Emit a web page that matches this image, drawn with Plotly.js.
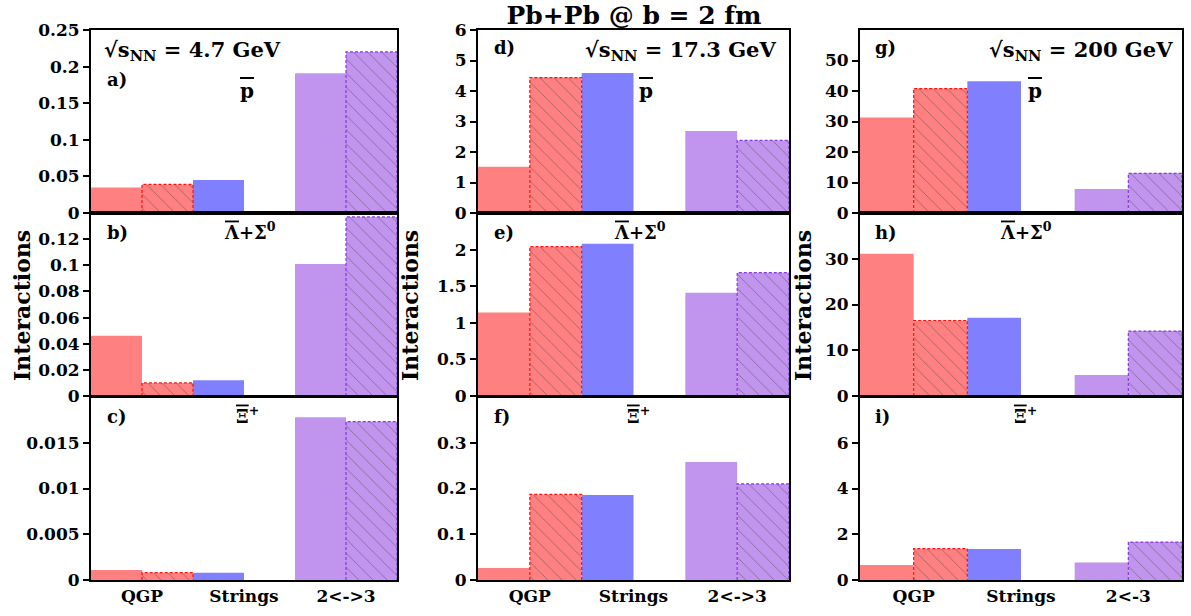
<!DOCTYPE html>
<html><head><meta charset="utf-8">
<script src="https://cdn.plot.ly/plotly-3.0.1.min.js"></script>
<style>html,body{margin:0;padding:0;background:#fff}#chart{width:1191px;height:616px}</style>
</head><body><div id="chart"></div>
<script>
// ---- data ----
const categories = ["QGP", "Strings", "2<->3"];
const categoriesLastPanel = ["QGP", "Strings", "2<-3"];
const energies = ["4.7", "17.3", "200"];
const particles = [
  "<span style=\"text-decoration:overline\">p</span>",
  "<span style=\"text-decoration:overline\">\u039B</span>+\u03A3<sup>0</sup>",
  "<span style=\"text-decoration:overline\">\u039E</span><sup>+</sup>"
];
const panelLetters = ["a)", "b)", "c)", "d)", "e)", "f)", "g)", "h)", "i)"];
// slot order: [QGP solid, QGP hatched, Strings, (empty), 2<->3 solid, 2<->3 hatched]
const pbar_4_7   = [0.035, 0.039, 0.045, null, 0.191, 0.220];
const lambda_4_7 = [0.046, 0.010, 0.012, null, 0.101, 0.137];
const xi_4_7     = [0.0011, 0.0008, 0.0008, null, 0.0178, 0.0173];
const pbar_17_3   = [1.52, 4.44, 4.59, null, 2.69, 2.38];
const lambda_17_3 = [1.14, 2.04, 2.08, null, 1.41, 1.685];
const xi_17_3     = [0.026, 0.187, 0.186, null, 0.258, 0.210];
const pbar_200   = [31.3, 40.8, 43.2, null, 7.9, 13.0];
const lambda_200 = [31.1, 16.5, 17.1, null, 4.6, 14.2];
const xi_200     = [0.66, 1.37, 1.35, null, 0.77, 1.66];
// y-axis tick values per panel
const ticks_a = [0, 0.05, 0.1, 0.15, 0.2, 0.25];
const ticks_b = [0, 0.02, 0.04, 0.06, 0.08, 0.1, 0.12];
const ticks_c = [0, 0.005, 0.01, 0.015];
const ticks_d = [0, 1, 2, 3, 4, 5, 6];
const ticks_e = [0, 0.5, 1, 1.5, 2];
const ticks_f = [0, 0.1, 0.2, 0.3];
const ticks_g = [0, 10, 20, 30, 40, 50];
const ticks_h = [0, 10, 20, 30];
const ticks_i = [0, 2, 4, 6];
const yMax_a = 0.25, yMax_b = 0.14, yMax_c = 0.02;
const yMax_d = 6, yMax_e = 2.5, yMax_f = 0.4;
const yMax_g = 60, yMax_h = 40, yMax_i = 8;

// grid: panels[col][row]
const panelValues = [[pbar_4_7, lambda_4_7, xi_4_7], [pbar_17_3, lambda_17_3, xi_17_3], [pbar_200, lambda_200, xi_200]];
const panelTicks = [[ticks_a, ticks_b, ticks_c], [ticks_d, ticks_e, ticks_f], [ticks_g, ticks_h, ticks_i]];
const panelMax = [[yMax_a, yMax_b, yMax_c], [yMax_d, yMax_e, yMax_f], [yMax_g, yMax_h, yMax_i]];

// ---- style ----
const W = 1191, H = 616;
const RED = "#ff8080", BLUE = "#8080ff", PURPLE = "#c194ee";
const RED_D = "#ff1010", PURPLE_D = "#8a35e0";
const colPx = [[91, 397], [478, 789], [860, 1182]];
const rowPx = [[30, 213], [213, 396], [397, 580]];
const FONT = "DejaVu Serif";

const data = [];
const layout = {
  width: W, height: H,
  margin: {l: 0, r: 0, t: 0, b: 0},
  paper_bgcolor: "#fff", plot_bgcolor: "#fff",
  showlegend: false, barmode: "overlay",
  font: {family: FONT, size: 17, color: "#000", weight: "bold"},
  title: {text: "Pb+Pb @ b = 2 fm", x: 634 / W, y: 1 - 15 / H, xanchor: "center", yanchor: "middle",
          font: {family: FONT, size: 25, color: "#000", weight: "bold"}},
  annotations: []
};

for (let c = 0; c < 3; c++) {
  for (let r = 0; r < 3; r++) {
    const k = r * 3 + c + 1;
    const xa = "x" + (k === 1 ? "" : k), ya = "y" + (k === 1 ? "" : k);
    const xkey = "xaxis" + (k === 1 ? "" : k), ykey = "yaxis" + (k === 1 ? "" : k);
    const vals = panelValues[c][r];
    // solid bars
    data.push({type: "bar", x: [0, 2, 4], y: [vals[0], vals[2], vals[4]], width: 1,
      xaxis: xa, yaxis: ya, marker: {color: [RED, BLUE, PURPLE], line: {width: 0}}, hoverinfo: "y"});
    // hatched bars
    data.push({type: "bar", x: [1, 5], y: [vals[1], vals[5]], width: 1,
      xaxis: xa, yaxis: ya,
      marker: {color: [RED, PURPLE], line: {width: 0},
        pattern: {shape: "\\", fgcolor: [RED_D, PURPLE_D], fgopacity: 0.55, size: 10, solidity: 0.08, fillmode: "overlay"}},
      hoverinfo: "y"});
    // dashed outlines of hatched bars
    [[1, RED_D], [5, PURPLE_D]].forEach(([i, col]) => {
      data.push({type: "scatter", mode: "lines", xaxis: xa, yaxis: ya, hoverinfo: "skip",
        x: [i - 0.5, i - 0.5, i + 0.5, i + 0.5], y: [0, vals[i], vals[i], 0],
        line: {color: col, width: 1.2, dash: "3px,2px"}});
    });
    layout[xkey] = {
      domain: [colPx[c][0] / W, colPx[c][1] / W], anchor: ya, range: [-0.5, 5.5],
      tickmode: "array", tickvals: [0.5, 2.5, 4.5],
      ticktext: (c === 2 ? categoriesLastPanel : categories),
      showticklabels: r === 2, ticks: "", showgrid: false, zeroline: false,
      showline: true, mirror: true, linewidth: 2, linecolor: "#000",
      tickfont: {family: FONT, size: 17, color: "#000", weight: "bold"}, fixedrange: true
    };
    const tv = panelTicks[c][r];
    layout[ykey] = {
      domain: [1 - rowPx[r][1] / H, 1 - rowPx[r][0] / H], anchor: xa, range: [0, panelMax[c][r]],
      tickmode: "array", tickvals: tv, ticktext: tv.map(v => String(v)),
      ticks: "outside", ticklen: 6, tickwidth: 2, tickcolor: "#000",
      showgrid: false, zeroline: false, showline: true, mirror: true, linewidth: 2, linecolor: "#000",
      tickfont: {family: FONT, size: 17, color: "#000", weight: "bold"}, fixedrange: true
    };
    // panel letter
    const lx = [105, 492, 873][c], ly = [79, 232, 416][r];
    const lyTop = (c > 0 && r === 0) ? 47 : ly;
    layout.annotations.push({xref: "paper", yref: "paper", x: lx / W, y: 1 - lyTop / H,
      xanchor: "left", yanchor: "middle", showarrow: false, text: panelLetters[c * 3 + r],
      font: {family: FONT, size: 18, color: "#000", weight: "bold"}});
    // particle label
    const px = [[247, 250, 248], [646, 640, 638], [1035, 1026, 1025]][c][r];
    const py = [91, 231, 415][r];
    layout.annotations.push({xref: "paper", yref: "paper", x: px / W, y: 1 - py / H,
      xanchor: "center", yanchor: "middle", showarrow: false, text: particles[r],
      font: {family: FONT, size: (r === 0 ? 20 : 18), color: "#000", weight: "bold"}});
  }
  // energy label
  const ex = [102, 778, 1175][c];
  layout.annotations.push({xref: "paper", yref: "paper", x: ex / W, y: 1 - 50 / H,
    xanchor: c === 0 ? "left" : "right", yanchor: "middle", showarrow: false,
    text: "\u221As<sub>NN</sub> = " + energies[c] + " GeV",
    font: {family: FONT, size: 21, color: "#000", weight: "bold"}});
  // y axis title
  const tx = [22, 410, 803][c];
  layout.annotations.push({xref: "paper", yref: "paper", x: tx / W, y: 1 - 306 / H,
    xanchor: "center", yanchor: "middle", showarrow: false, textangle: -90, text: "Interactions",
    font: {family: FONT, size: 22, color: "#000", weight: "bold"}});
}

Plotly.newPlot("chart", data, layout, {displayModeBar: false, staticPlot: true});
</script></body></html>
